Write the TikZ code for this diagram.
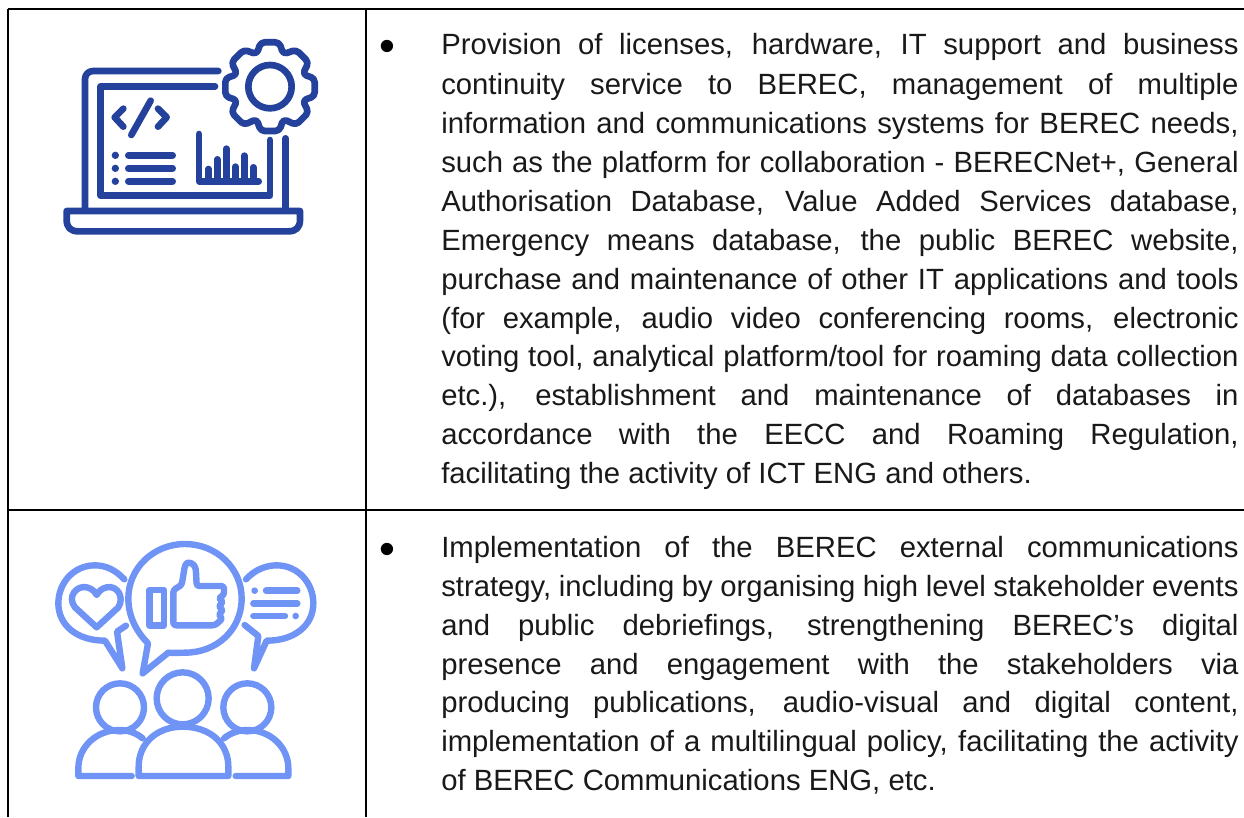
\documentclass[tikz,border=0pt]{standalone}
\usepackage{fontspec}
\setmainfont{Liberation Sans}
\definecolor{ic}{HTML}{24429B}
\definecolor{sc}{HTML}{7094F5}
\tikzset{
 rule/.style={draw=black,line width=1.5pt},
 tl/.style={anchor=base west,inner sep=0pt,yshift=-0.75pt,font=\fontsize{21.95pt}{21.95pt}\selectfont,text=black!90!white},
 bul/.style={anchor=base,inner sep=0pt,font=\fontsize{34pt}{34pt}\selectfont,text=black},
 ia/.style={draw=ic,line width=5pt,line cap=round,line join=round},
 ib/.style={draw=sc,line width=4.8pt,line cap=round,line join=round},
}
\newcommand{\jl}[3]{\node[tl] (#1) at (441,#2) {\hbox to 598pt{\spaceskip=\fontdimen2\font plus 1fil minus 2pt\relax #3}};}
\begin{document}
\begin{tikzpicture}[x=0.75pt,y=-0.75pt]
\useasboundingbox (0,0) rectangle (1244,817);
\fill[white] (0,0) rectangle (1244,817);
\coordinate (tl) at (8,9); \coordinate (tr) at (1244,9);
\coordinate (ml) at (8,510); \coordinate (mr) at (1244,510);
\coordinate (bl) at (8,817); \coordinate (cb) at (365.5,817); \coordinate (ct) at (365.5,9);
\draw[rule] (tl)--(tr); \draw[rule] (ml)--(mr); \draw[rule] (tl)--(bl); \draw[rule] (ct)--(cb);
% text
\node[bul] (ba) at (387,62) {•};
\jl{a1}{54}{Provision of licenses, hardware, IT support and business}
\jl{a2}{93}{continuity service to BEREC, management of multiple}
\jl{a3}{132}{information and communications systems for BEREC needs,}
\jl{a4}{171}{such as the platform for collaboration - BERECNet+, General}
\jl{a5}{210}{Authorisation Database, Value Added Services database,}
\jl{a6}{249}{Emergency means database, the public BEREC website,}
\jl{a7}{288}{purchase and maintenance of other IT applications and tools}
\jl{a8}{327}{(for example, audio video conferencing rooms, electronic}
\jl{a9}{365}{voting tool, analytical platform/tool for roaming data collection}
\jl{a10}{404}{etc.), establishment and maintenance of databases in}
\jl{a11}{443}{accordance with the EECC and Roaming Regulation,}
\node[tl] (a12) at (441,482) {facilitating the activity of ICT ENG and others.};
\node[bul] (bb) at (387,564) {•};
\jl{b1}{556}{Implementation of the BEREC external communications}
\jl{b2}{595}{strategy, including by organising high level stakeholder events}
\jl{b3}{634}{and public debriefings, strengthening BEREC’s digital}
\jl{b4}{673}{presence and engagement with the stakeholders via}
\jl{b5}{711}{producing publications, audio-visual and digital content,}
\jl{b6}{750}{implementation of a multilingual policy, facilitating the activity}
\node[tl] (b7) at (441,789) {of BEREC Communications ENG, etc.};
% laptop icon (zoom coords /3 + offset)
\begin{scope}[shift={(40,20)},x=0.25pt,y=-0.25pt]
\draw[ia,rounded corners=6pt] (535,153) -- (135,153) -- (135,570);
\draw[ia] (737,355) -- (737,570);
\draw[ia] (525,199) -- (182,199) -- (182,527) -- (690,527) -- (690,360);
\draw[ia] (80,573) -- (780,573) -- (780,600) .. controls (780,622) and (768,634) .. (746,634) -- (114,634) .. controls (92,634) and (80,622) .. (80,600) -- cycle;
\draw[ia] (250,266) -- (224,292) -- (250,320);
\draw[ia] (354,266) -- (380,292) -- (354,320);
\draw[ia] (332,242) -- (274,345);
\fill[ic] (226,406) circle (11) (226,445) circle (11) (226,484) circle (11);
\draw[ia] (265,406) -- (398,406); \draw[ia] (265,445) -- (398,445); \draw[ia] (265,484) -- (398,484);
\draw[ia] (477,342) -- (477,484) -- (656,484);
\draw[ia] (505,484) -- (505,447); \draw[ia] (532,484) -- (532,418); \draw[ia] (559,484) -- (559,386);
\draw[ia] (586,484) -- (586,440); \draw[ia] (613,484) -- (613,407); \draw[ia] (640,484) -- (640,442);
\draw[ia] (690,200) circle (65);
\draw[ia,rounded corners=3pt] (662,67) -- (718,67) -- (730,103) -- (768,89) -- (806,127) -- (788,163) -- (824,175) -- (824,229) -- (788,241) -- (806,277) -- (768,315) -- (730,297) -- (718,333) -- (662,333) -- (650,297) -- (612,315) -- (574,277) -- (592,241) -- (556,229) -- (556,175) -- (592,163) -- (574,127) -- (612,89) -- (650,103) -- cycle;
\end{scope}
% social icon
\begin{scope}[shift={(40,530)},x=0.25pt,y=-0.25pt]
\draw[ib] (253,148) .. controls (225,118) and (195,106) .. (165,106) .. controls (100,106) and (55,160) .. (55,220) .. controls (55,285) and (110,332) .. (195,332) -- (247,415) -- (231,305) -- (258,287);
\draw[ib] (170,292) -- (105,232) .. controls (80,200) and (110,165) .. (140,172) .. controls (155,175) and (165,185) .. (170,195) .. controls (175,185) and (185,175) .. (200,172) .. controls (230,165) and (255,200) .. (235,232) -- cycle;
\draw[ib] (618,148) .. controls (645,118) and (680,106) .. (710,106) .. controls (775,106) and (820,160) .. (820,220) .. controls (820,285) and (765,332) .. (680,332) -- (642,415) -- (655,318) -- (614,285);
\fill[sc] (644,182) circle (10) (767,258) circle (10);
\draw[ib] (678,182) -- (772,182); \draw[ib] (640,220) -- (772,220); \draw[ib] (640,258) -- (735,258);
\draw[ib] (308,430) -- (324,340) .. controls (285,300) and (265,255) .. (265,205) .. controls (265,115) and (340,42) .. (435,42) .. controls (530,42) and (605,115) .. (605,205) .. controls (605,300) and (530,368) .. (435,368) .. controls (420,368) and (400,370) .. (385,368) -- cycle;
\draw[ib] (328,180) rectangle (372,286);
\draw[ib,rounded corners=2pt] (400,286) -- (400,180) -- (425,165) -- (435,105) .. controls (445,95) and (465,100) .. (468,125) -- (470,168) -- (552,168) -- (552,195) -- (535,205) -- (550,215) -- (535,230) -- (550,240) -- (535,255) -- (548,265) -- (525,286) -- cycle;
\draw[ib] (428,505) circle (78);
\draw[ib] (296,738) -- (296,710) .. controls (296,640) and (350,590) .. (428,590) .. controls (510,590) and (565,640) .. (565,710) -- (565,738) -- cycle;
\draw[ib] (240,532) circle (72);
\draw[ib] (275,738) -- (115,738) -- (115,715) .. controls (115,650) and (170,600) .. (238,600) .. controls (265,600) and (290,610) .. (308,625);
\draw[ib] (622,532) circle (72);
\draw[ib] (587,738) -- (745,738) -- (745,715) .. controls (745,650) and (690,600) .. (622,600) .. controls (595,600) and (570,610) .. (552,625);
\end{scope}
\end{tikzpicture}
\end{document}
